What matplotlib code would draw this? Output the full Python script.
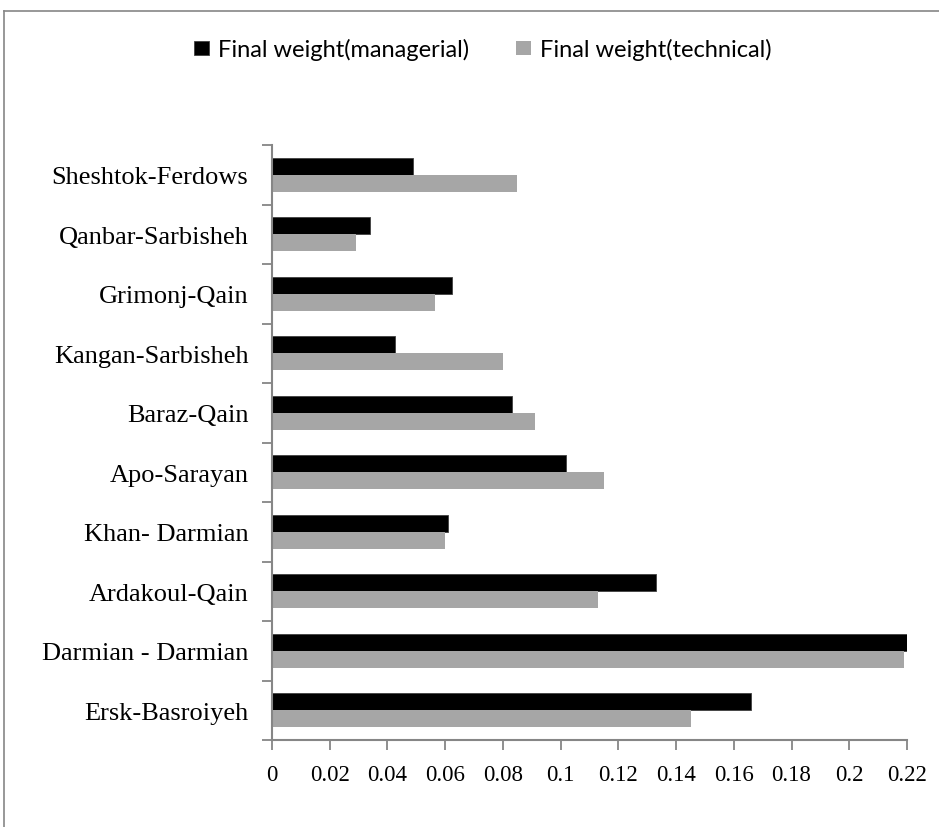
import matplotlib
matplotlib.use("Agg")
import matplotlib.pyplot as plt
from matplotlib.lines import Line2D
import numpy as np

categories = ["Ersk-Basroiyeh", "Darmian - Darmian", "Ardakoul-Qain", "Khan- Darmian",
              "Apo-Sarayan", "Baraz-Qain", "Kangan-Sarbisheh", "Grimonj-Qain",
              "Qanbar-Sarbisheh", "Sheshtok-Ferdows"]
managerial = [0.166, 0.221, 0.133, 0.061, 0.102, 0.083, 0.0425, 0.0625, 0.034, 0.049]
technical = [0.145, 0.219, 0.113, 0.060, 0.115, 0.091, 0.080, 0.0565, 0.029, 0.085]
xticks = [0, 0.02, 0.04, 0.06, 0.08, 0.1, 0.12, 0.14, 0.16, 0.18, 0.2, 0.22]
xticklabels = ["0", "0.02", "0.04", "0.06", "0.08", "0.1", "0.12", "0.14", "0.16", "0.18", "0.2", "0.22"]

W, H = 939, 828
fig = plt.figure(figsize=(W / 100, H / 100), dpi=100)
ax = fig.add_axes([272 / W, 1 - 741 / H, 635 / W, (741 - 146) / H])

y = np.arange(len(categories))
h = 0.285
ax.barh(y + h / 2, managerial, height=h, color="black", edgecolor="#404040", linewidth=0.6,
        label="Final weight(managerial)")
ax.barh(y - h / 2, technical, height=h, color="#A6A6A6", edgecolor="none",
        label="Final weight(technical)")

ax.set_xlim(0, 0.22)
ax.set_ylim(-0.5, len(categories) - 0.5)

serif = ["Liberation Serif", "DejaVu Serif"]
ax.set_xticks(xticks)
ax.set_xticklabels(xticklabels, fontfamily=serif, fontsize=16.5)
ax.set_yticks(y)
ax.set_yticklabels(categories, fontfamily=serif, fontsize=19)
ax.tick_params(axis="y", which="major", length=0, pad=17)
ax.set_yticks(np.arange(-0.5, len(categories), 1), minor=True)
ax.tick_params(axis="y", which="minor", length=7, width=1.3, color="#868686", direction="out")
ax.tick_params(axis="x", which="major", length=7, width=1.3, color="#868686", direction="out", pad=10)

for s in ["top", "right"]:
    ax.spines[s].set_visible(False)
for s in ["left", "bottom"]:
    ax.spines[s].set_color("#868686")
    ax.spines[s].set_linewidth(1.5)

fig.legend(loc="center", bbox_to_anchor=(483 / W, 1 - 50 / H), ncol=2, frameon=False,
           prop={"family": ["Lato", "DejaVu Sans"], "size": 17},
           handlelength=0.64, handleheight=0.55, handletextpad=0.38, columnspacing=2.0,
           borderpad=0.0)

# outer chart border (top and left visible)
fig.add_artist(Line2D([4 / W, 1.0], [1 - 12 / H, 1 - 12 / H], color="#868686", linewidth=1.2,
                      transform=fig.transFigure))
fig.add_artist(Line2D([4 / W, 4 / W], [0, 1 - 12 / H], color="#868686", linewidth=1.2,
                      transform=fig.transFigure))

fig.savefig("out.png", dpi=100)
